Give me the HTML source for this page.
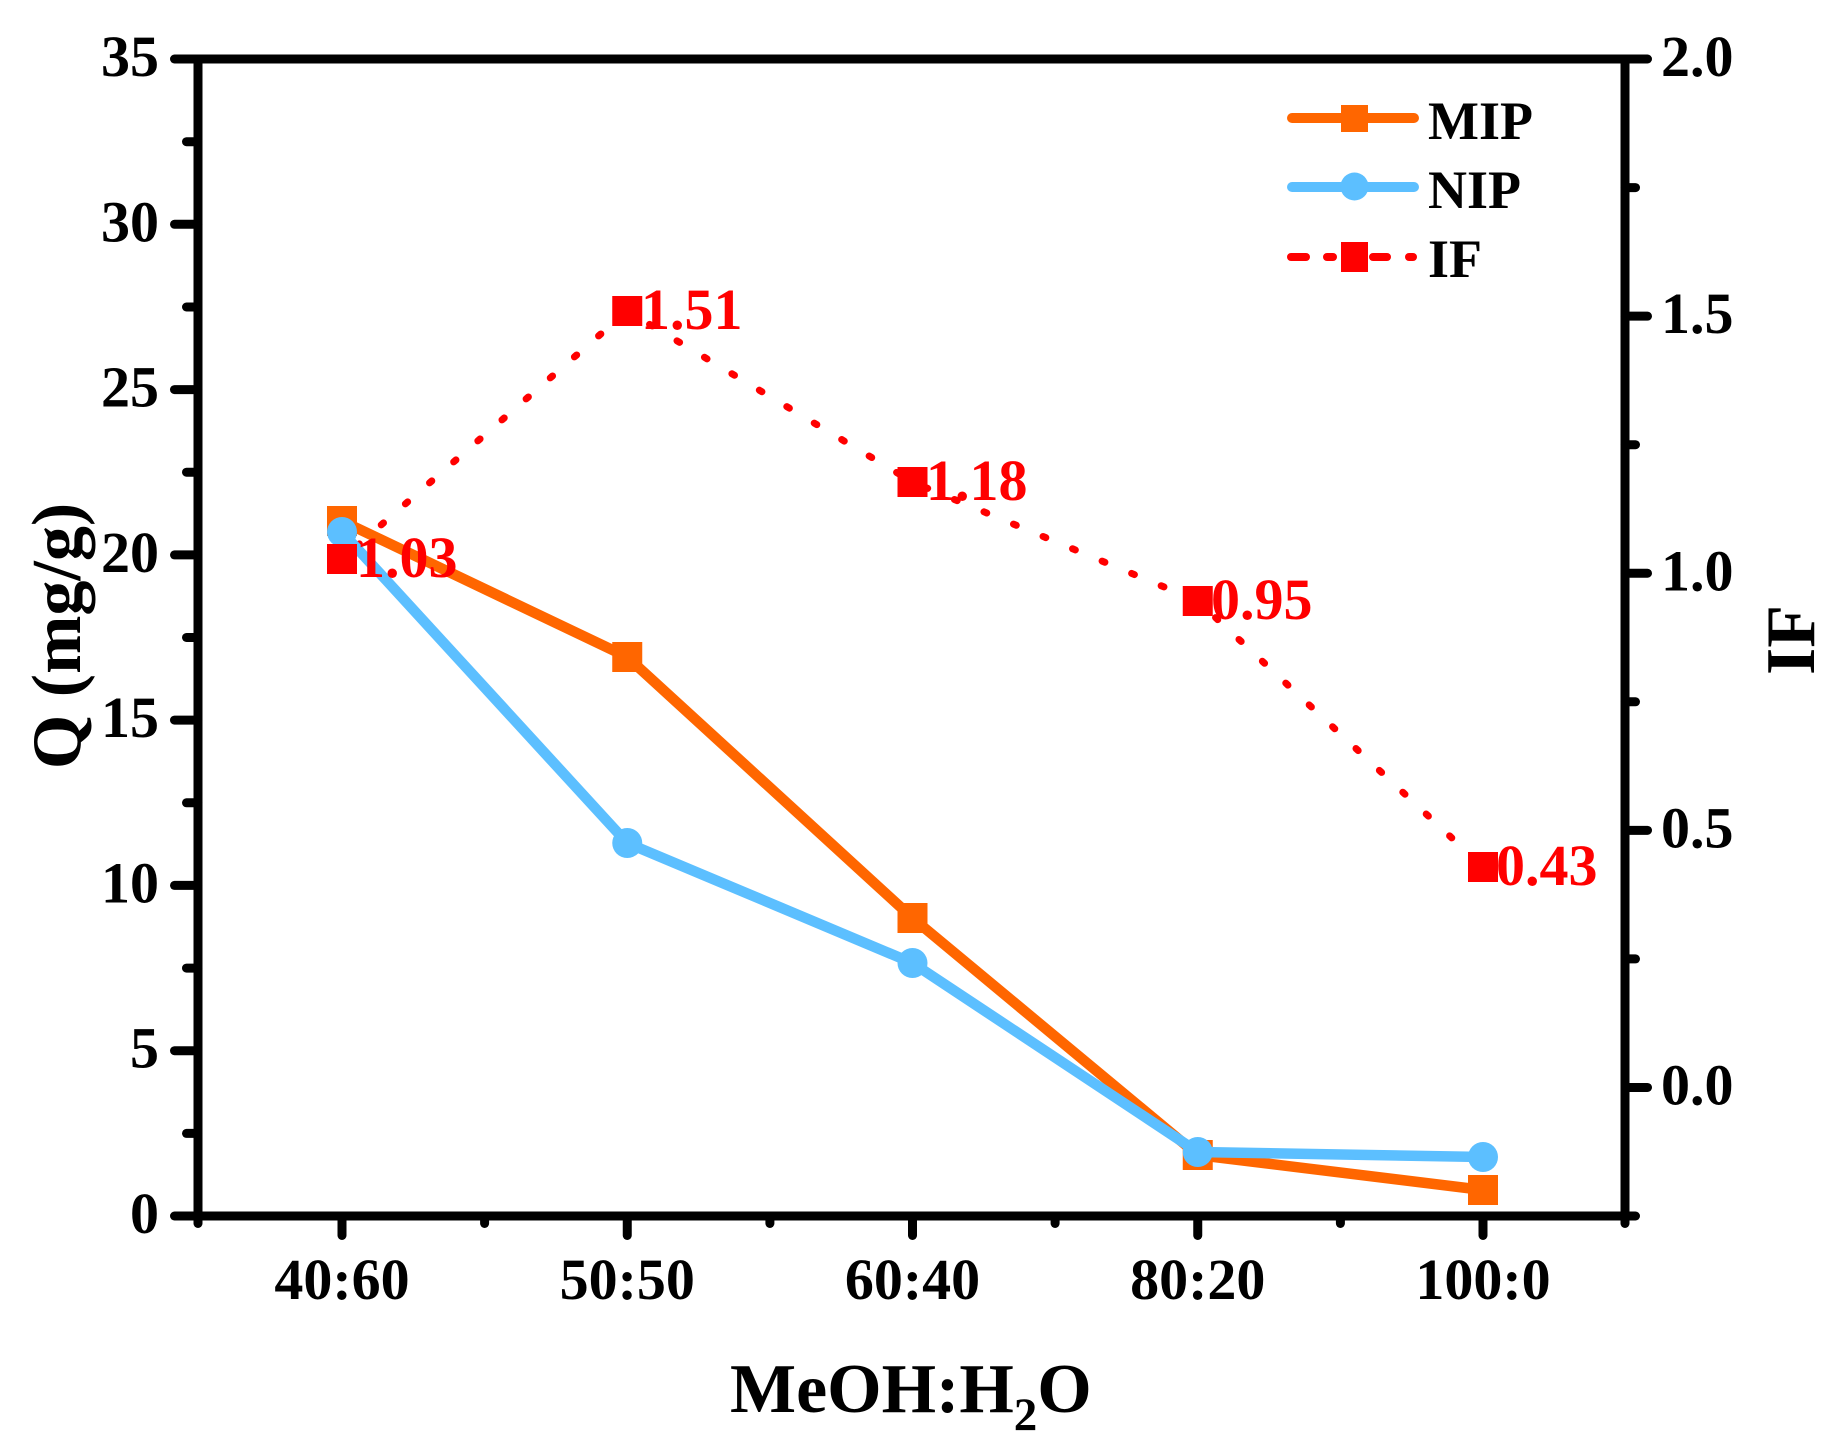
<!DOCTYPE html>
<html>
<head>
<meta charset="utf-8">
<style>
  html, body { margin: 0; padding: 0; background: #ffffff; }
  svg { display: block; }
  text { font-family: "Liberation Serif", "Times New Roman", serif; font-weight: bold; }
</style>
</head>
<body>
<svg width="1826" height="1448" viewBox="0 0 1826 1448" xmlns="http://www.w3.org/2000/svg">
  <rect x="0" y="0" width="1826" height="1448" fill="#ffffff"/>

  <!-- IF dotted line -->
  <polyline points="342,559 627.25,311 912.5,482 1197.75,601 1483,867" fill="none" stroke="#FF0000" stroke-width="7" stroke-linecap="round" stroke-dasharray="3 29" stroke-dashoffset="-20"/>

  <!-- MIP line -->
  <polyline points="342,521 627.25,657 912.5,918 1197.75,1155 1483,1190" fill="none" stroke="#FF6600" stroke-width="10.5" stroke-linejoin="round"/>
  <g fill="#FF6600">
    <rect x="327" y="506" width="30" height="30"/>
    <rect x="612.25" y="642" width="30" height="30"/>
    <rect x="897.5" y="903" width="30" height="30"/>
    <rect x="1182.75" y="1140" width="30" height="30"/>
    <rect x="1468" y="1175" width="30" height="30"/>
  </g>

  <!-- NIP line -->
  <polyline points="342,532 627.25,843 912.5,963 1197.75,1152 1483,1157" fill="none" stroke="#5CBFFF" stroke-width="10.5" stroke-linejoin="round"/>
  <g fill="#5CBFFF">
    <circle cx="342" cy="532" r="15"/>
    <circle cx="627.25" cy="843" r="15"/>
    <circle cx="912.5" cy="963" r="15"/>
    <circle cx="1197.75" cy="1152" r="15"/>
    <circle cx="1483" cy="1157" r="15"/>
  </g>

  <!-- IF markers -->
  <g fill="#FF0000">
    <rect x="327" y="544" width="30" height="30"/>
    <rect x="612.25" y="296" width="30" height="30"/>
    <rect x="897.5" y="467" width="30" height="30"/>
    <rect x="1182.75" y="586" width="30" height="30"/>
    <rect x="1468" y="852" width="30" height="30"/>
  </g>

  <!-- IF labels -->
  <g fill="#FF0000" font-size="58">
    <text x="356" y="577">1.03</text>
    <text x="641" y="329">1.51</text>
    <text x="926" y="500">1.18</text>
    <text x="1211" y="619">0.95</text>
    <text x="1496" y="885">0.43</text>
  </g>

  <!-- Axes -->
  <g stroke="#000" stroke-width="9" stroke-linecap="round" fill="none">
    <line x1="174.5" y1="59" x2="1647.5" y2="59"/>
    <line x1="174.5" y1="1216" x2="1635.5" y2="1216"/>
    <line x1="198" y1="59" x2="198" y2="1223.5"/>
    <line x1="1625" y1="59" x2="1625" y2="1223.5"/>
    <!-- left major ticks -->
    <line x1="174.5" y1="1050.7" x2="198" y2="1050.7"/>
    <line x1="174.5" y1="885.4" x2="198" y2="885.4"/>
    <line x1="174.5" y1="720.1" x2="198" y2="720.1"/>
    <line x1="174.5" y1="554.9" x2="198" y2="554.9"/>
    <line x1="174.5" y1="389.6" x2="198" y2="389.6"/>
    <line x1="174.5" y1="224.3" x2="198" y2="224.3"/>
    <!-- left minor ticks -->
    <line x1="186.5" y1="1133.4" x2="198" y2="1133.4"/>
    <line x1="186.5" y1="968.1" x2="198" y2="968.1"/>
    <line x1="186.5" y1="802.8" x2="198" y2="802.8"/>
    <line x1="186.5" y1="637.5" x2="198" y2="637.5"/>
    <line x1="186.5" y1="472.2" x2="198" y2="472.2"/>
    <line x1="186.5" y1="307" x2="198" y2="307"/>
    <line x1="186.5" y1="141.7" x2="198" y2="141.7"/>
    <!-- right major ticks -->
    <line x1="1625" y1="1087.45" x2="1647.5" y2="1087.45"/>
    <line x1="1625" y1="830.35" x2="1647.5" y2="830.35"/>
    <line x1="1625" y1="573.25" x2="1647.5" y2="573.25"/>
    <line x1="1625" y1="316.15" x2="1647.5" y2="316.15"/>
    <!-- right minor ticks -->
    <line x1="1625" y1="958.9" x2="1635.5" y2="958.9"/>
    <line x1="1625" y1="701.8" x2="1635.5" y2="701.8"/>
    <line x1="1625" y1="444.7" x2="1635.5" y2="444.7"/>
    <line x1="1625" y1="187.6" x2="1635.5" y2="187.6"/>
    <!-- bottom major ticks -->
    <line x1="342" y1="1216" x2="342" y2="1235.5"/>
    <line x1="627.25" y1="1216" x2="627.25" y2="1235.5"/>
    <line x1="912.5" y1="1216" x2="912.5" y2="1235.5"/>
    <line x1="1197.75" y1="1216" x2="1197.75" y2="1235.5"/>
    <line x1="1483" y1="1216" x2="1483" y2="1235.5"/>
    <!-- bottom minor ticks -->
    <line x1="484.6" y1="1216" x2="484.6" y2="1223.5"/>
    <line x1="769.9" y1="1216" x2="769.9" y2="1223.5"/>
    <line x1="1055.1" y1="1216" x2="1055.1" y2="1223.5"/>
    <line x1="1340.4" y1="1216" x2="1340.4" y2="1223.5"/>
  </g>

  <!-- Left tick labels -->
  <g font-size="58" text-anchor="end" fill="#000">
    <text x="159" y="1233">0</text>
    <text x="159" y="1067.7">5</text>
    <text x="159" y="902.4">10</text>
    <text x="159" y="737.1">15</text>
    <text x="159" y="571.9">20</text>
    <text x="159" y="406.6">25</text>
    <text x="159" y="241.3">30</text>
    <text x="159" y="76">35</text>
  </g>

  <!-- Right tick labels -->
  <g font-size="58" text-anchor="start" fill="#000">
    <text x="1661" y="1104.45">0.0</text>
    <text x="1661" y="847.35">0.5</text>
    <text x="1661" y="590.25">1.0</text>
    <text x="1661" y="333.15">1.5</text>
    <text x="1661" y="76">2.0</text>
  </g>

  <!-- Bottom tick labels -->
  <g font-size="58" text-anchor="middle" fill="#000">
    <text x="342" y="1299">40:60</text>
    <text x="627.25" y="1299">50:50</text>
    <text x="912.5" y="1299">60:40</text>
    <text x="1197.75" y="1299">80:20</text>
    <text x="1483" y="1299">100:0</text>
  </g>

  <!-- Axis titles -->
  <text x="730" y="1412" font-size="70" fill="#000">MeOH:H<tspan font-size="47" dy="18">2</tspan><tspan dy="-18">O</tspan></text>
  <text transform="translate(80,636) rotate(-90)" font-size="70" text-anchor="middle" fill="#000">Q (mg/g)</text>
  <text transform="translate(1814,640) rotate(-90)" font-size="70" text-anchor="middle" fill="#000">IF</text>

  <!-- Legend -->
  <line x1="1292" y1="118" x2="1414" y2="118" stroke="#FF6600" stroke-width="10" stroke-linecap="round"/>
  <rect x="1341" y="105" width="27" height="27" fill="#FF6600"/>
  <text x="1428" y="139" font-size="54" fill="#000">MIP</text>

  <line x1="1292" y1="187" x2="1414" y2="187" stroke="#5CBFFF" stroke-width="10" stroke-linecap="round"/>
  <circle cx="1354.5" cy="186.5" r="14" fill="#5CBFFF"/>
  <text x="1428" y="208" font-size="54" fill="#000">NIP</text>

  <g stroke="#FF0000" stroke-width="8" stroke-linecap="round">
    <line x1="1291" y1="257" x2="1306" y2="257"/>
    <line x1="1327" y1="257" x2="1333" y2="257"/>
    <line x1="1373" y1="257" x2="1387" y2="257"/>
    <line x1="1409" y1="257" x2="1413" y2="257"/>
  </g>
  <rect x="1341" y="242" width="27" height="30" fill="#FF0000"/>
  <text x="1428" y="277" font-size="54" fill="#000">IF</text>
</svg>
</body>
</html>
